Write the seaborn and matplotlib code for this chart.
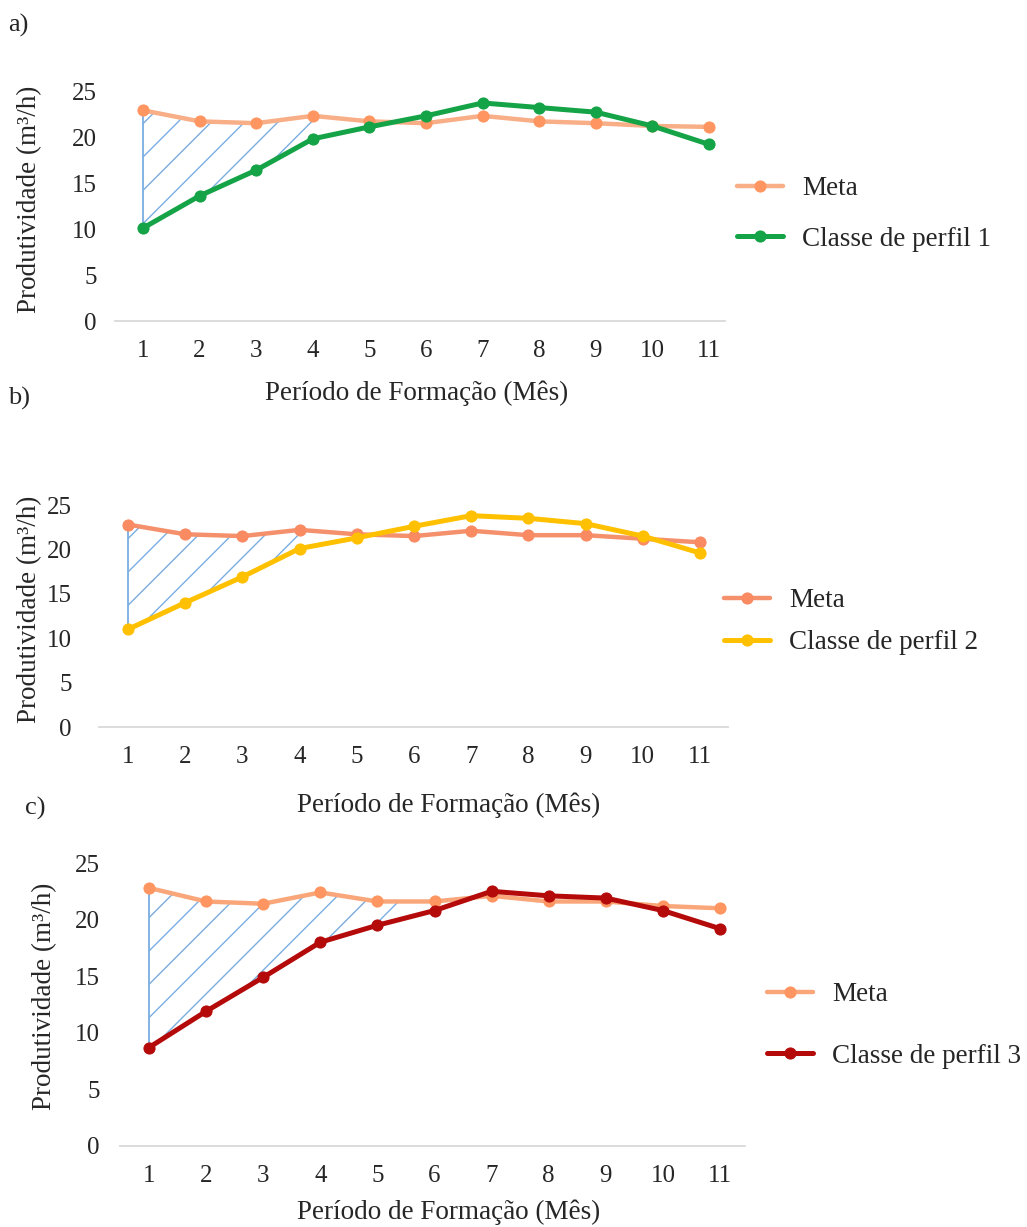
import numpy as np
import pandas as pd
import matplotlib
matplotlib.use("Agg")
import matplotlib.pyplot as plt
import seaborn as sns

sns.set_style("white")
plt.rcParams['font.family'] = ['Liberation Serif', 'DejaVu Serif']
plt.rcParams['hatch.linewidth'] = 1.0

meses = list(range(1, 12))
meta_a = [22.9, 21.7, 21.5, 22.3, 21.7, 21.5, 22.3, 21.7, 21.5, 21.2, 21.1]
perfil1 = [10.1, 13.6, 16.4, 19.8, 21.1, 22.3, 23.7, 23.2, 22.7, 21.2, 19.2]
meta_b = [22.8, 21.7, 21.5, 22.2, 21.7, 21.5, 22.1, 21.6, 21.6, 21.2, 20.8]
perfil2 = [11.0, 14.0, 16.9, 20.1, 21.3, 22.6, 23.8, 23.5, 22.9, 21.5, 19.6]
meta_c = [22.8, 21.6, 21.4, 22.4, 21.6, 21.6, 22.1, 21.6, 21.6, 21.2, 21.0]
perfil3 = [8.7, 11.9, 14.9, 18.0, 19.5, 20.8, 22.5, 22.1, 21.9, 20.8, 19.2]
hatch_end = [4.3, 4.1, 5.5]

FS_TICK = 18
FS_LAB = 19.5
FS_LEG = 19.5

panels = [
    dict(letter="a)", meta=meta_a, cls=perfil1, label="Classe de perfil 1", color="#14A346",
         meta_line="#F8AE86", meta_mk="#FF9661",
         x1=143, x11=709, right=725, y0=321, y25=91, letter_xy=(8, 25),
         ylab_x=30, leg=(713, 152), lsp=0.93, xlab_x=417, xlab_y=393, ytickpad=13),
    dict(letter="b)", meta=meta_b, cls=perfil2, label="Classe de perfil 2", color="#FFC000",
         meta_line="#F5906C", meta_mk="#F98A62",
         x1=128, x11=700, right=728, y0=727, y25=505, letter_xy=(8, 398),
         ylab_x=30, leg=(700, 564), lsp=0.63, xlab_x=449, xlab_y=805, ytickpad=20),
    dict(letter="c)", meta=meta_c, cls=perfil3, label="Classe de perfil 3", color="#B40A0A",
         meta_line="#F9A77A", meta_mk="#FF9560",
         x1=149, x11=720, right=745, y0=1146, y25=863, letter_xy=(25, 808),
         ylab_x=45, leg=(743, 958), lsp=1.35, xlab_x=449, xlab_y=1212, ytickpad=15),
]

W, H = 1027, 1227
fig = plt.figure(figsize=(W / 100, H / 100), dpi=100)

for i, p in enumerate(panels):
    unit = (p["x11"] - p["x1"]) / 10
    left_px = p["x1"] - 0.5 * unit
    xmax = 11 + (p["right"] - p["x11"]) / unit
    ax = fig.add_axes([left_px / W, 1 - p["y0"] / H, (p["right"] - left_px) / W,
                       (p["y0"] - p["y25"]) / H])
    df = pd.DataFrame({"mes": meses, "meta": p["meta"], "cls": p["cls"]})

    # hatched gap region
    xs = np.linspace(1, hatch_end[i], 200)
    top = np.interp(xs, meses, p["meta"])
    bot = np.interp(xs, meses, p["cls"])
    ax.fill_between(xs, bot, top, facecolor="none", edgecolor="#7AAEE0",
                    hatch="/", linewidth=0, zorder=1)
    ax.plot([1, 1], [p["cls"][0], p["meta"][0]], color="#7AAEE0", lw=1.3, zorder=1)

    sns.lineplot(data=df, x="mes", y="meta", ax=ax, color=p["meta_line"], lw=3.2,
                 marker="o", markersize=8, markerfacecolor=p["meta_mk"],
                 markeredgecolor=p["meta_mk"], label="Meta", zorder=3)
    sns.lineplot(data=df, x="mes", y="cls", ax=ax, color=p["color"], lw=3.6,
                 marker="o", markersize=8, markeredgecolor=p["color"],
                 label=p["label"], zorder=4)

    ax.set_xlim(0.5, xmax)
    ax.set_ylim(0, 25)
    ax.set_xticks(meses)
    ax.set_yticks([0, 5, 10, 15, 20, 25])
    for s in ["top", "right", "left"]:
        ax.spines[s].set_visible(False)
    ax.spines["bottom"].set_color("#D9D9D9")
    ax.spines["bottom"].set_linewidth(1.3)
    ax.tick_params(axis="x", length=0, pad=14, labelsize=FS_TICK)
    ax.tick_params(axis="y", length=0, pad=p["ytickpad"], labelsize=FS_TICK)
    ax.grid(False)

    ax.set_xlabel("Período de Formação (Mês)", fontsize=FS_LAB)
    ax.xaxis.label.set_va("center")
    ax.xaxis.set_label_coords((p["xlab_x"] - left_px) / (p["right"] - left_px),
                              -(p["xlab_y"] - p["y0"]) / (p["y0"] - p["y25"]))
    ax.set_ylabel("Produtividade (m³/h)", fontsize=FS_LAB)
    ax.yaxis.label.set_va("center")
    ax.yaxis.set_label_coords((p["ylab_x"] - left_px) / (p["right"] - left_px), 0.53)

    ax.legend(loc="upper left", bbox_to_anchor=(p["leg"][0] / W, 1 - p["leg"][1] / H),
              bbox_transform=fig.transFigure, frameon=False, fontsize=FS_LEG,
              handlelength=1.7, labelspacing=p["lsp"], handletextpad=0.7)

    fig.text(p["letter_xy"][0] / W, 1 - p["letter_xy"][1] / H, p["letter"],
             fontsize=19, ha="left", va="center")

fig.savefig("out.png", dpi=100)
